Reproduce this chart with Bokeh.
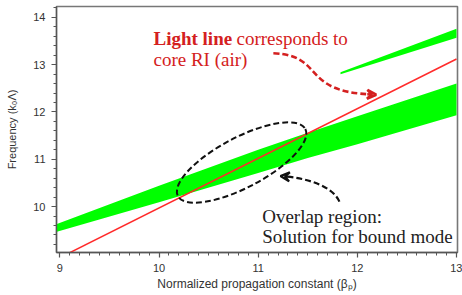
from bokeh.plotting import figure
from bokeh.models import Range1d, SingleIntervalTicker, Arrow, VeeHead
from bokeh.core.properties import value
from bokeh.embed import file_html
from bokeh.resources import INLINE

# ---- data ----
band_x = [8.97, 10.0, 11.0, 11.5, 12.0, 13.0]
band_top = [9.63, 10.44, 11.20, 11.56, 11.91, 12.60]
band_bottom = [9.47, 10.09, 10.71, 11.03, 11.32, 11.93]

upper_x = [11.83, 13.0]
upper_top = [12.84, 13.76]
upper_bottom = [12.80, 13.57]

light_x = [8.97, 13.0]
light_y = [8.89, 13.12]

x_label = "Normalized propagation constant (βₚ)"
y_label = "Frequency (k₀Λ)"

p = figure(width=462, height=295, output_backend="svg", toolbar_location=None,
           x_range=Range1d(8.966, 13.01), y_range=Range1d(9.03, 14.23),
           min_border_left=56, min_border_right=5, min_border_top=6, min_border_bottom=43)

p.grid.visible = False
p.outline_line_color = "#777777"
p.outline_line_width = 1.6
p.background_fill_color = "white"

p.xaxis.ticker = SingleIntervalTicker(interval=1, num_minor_ticks=10)
p.yaxis.ticker = SingleIntervalTicker(interval=1, num_minor_ticks=5)

for ax in (p.xaxis, p.yaxis):
    ax.axis_line_color = "#555555"
    ax.axis_line_width = 1.3
    ax.major_tick_line_color = "#555555"
    ax.minor_tick_line_color = "#555555"
    ax.major_tick_line_width = 1.2
    ax.minor_tick_line_width = 1.0
    ax.major_tick_out = 5
    ax.major_tick_in = 0
    ax.minor_tick_out = 3
    ax.minor_tick_in = 0
    ax.major_label_text_font = "Liberation Sans"
    ax.major_label_text_font_size = "11px"
    ax.major_label_text_color = "#333333"
    ax.major_label_standoff = 6
    ax.axis_label_text_font = "Liberation Sans"
    ax.axis_label_text_font_style = "normal"
    ax.axis_label_text_color = "#333333"

p.xaxis.axis_label = x_label
p.yaxis.axis_label = y_label
p.xaxis.axis_label_text_font_size = "12px"
p.yaxis.axis_label_text_font_size = "11px"
p.xaxis.axis_label_standoff = 2
p.yaxis.axis_label_standoff = 12

# green bands
p.varea(x=band_x, y1=band_bottom, y2=band_top, fill_color="#00ff00")
p.varea(x=upper_x, y1=upper_bottom, y2=upper_top, fill_color="#00ff00")

# light line
p.line(light_x, light_y, line_color="#ff2a2a", line_width=1.5)

# overlap ellipse
p.ellipse(x=[10.833], y=[10.932], width=[144], height=[50], angle=[0.485],
          width_units="screen", height_units="screen",
          fill_color=None, line_color="#111111", line_width=2, line_dash="6 3")

# red dashed curved arrow
p.bezier(x0=[11.153], y0=[13.242], cx0=[11.677], cy0=[13.199],
         cx1=[11.425], cy1=[12.415], x1=[12.151], y1=[12.373],
         line_color="#d42020", line_width=2.6, line_dash="6 3")
p.add_layout(Arrow(x_start=12.10, y_start=12.375, x_end=12.19, y_end=12.365,
                   line_color="#d42020", line_width=2.6,
                   end=VeeHead(size=9, line_color="#d42020", line_width=2.6, fill_color=None)))

# black dashed curved arrow
p.bezier(x0=[11.819], y0=[10.106], cx0=[11.758], cy0=[10.403],
         cx1=[11.526], cy1=[10.593], x1=[11.274], y1=[10.636],
         line_color="#111111", line_width=2.2, line_dash="6 3")
p.add_layout(Arrow(x_start=11.30, y_start=10.632, x_end=11.225, y_end=10.646,
                   line_color="#111111", line_width=2.2,
                   end=VeeHead(size=9, line_color="#111111", line_width=2.2, fill_color=None)))

serif = value("Liberation Serif")
p.text(x=[9.944], y=[13.56], text=["Light line"], text_font=serif, text_font_size="19px",
       text_font_style="bold", text_color="#d42020", text_baseline="alphabetic")
p.text(x=[9.944], y=[13.56], text=["corresponds to"], x_offset=83, text_font=serif,
       text_font_size="19px", text_color="#d42020", text_baseline="alphabetic")
p.text(x=[9.944], y=[13.11], text=["core RI (air)"], text_font=serif, text_font_size="19px",
       text_color="#d42020", text_baseline="alphabetic")
p.text(x=[11.04, 11.04], y=[9.79, 9.36], text=["Overlap region:", "Solution for bound mode"],
       text_font=serif, text_font_size="19px", text_color="#222222", text_baseline="alphabetic")

open("out.html", "w").write(file_html(p, INLINE))
